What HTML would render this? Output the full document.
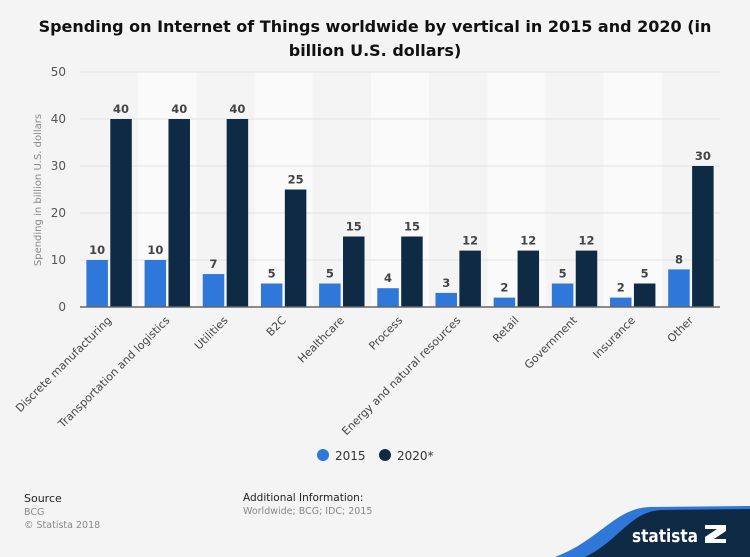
<!DOCTYPE html>
<html><head><meta charset="utf-8"><style>
body{margin:0;width:750px;height:557px;background:#f4f4f4;font-family:"Liberation Sans","DejaVu Sans",sans-serif;position:relative;overflow:hidden}
.t{position:absolute;left:0;width:750px;text-align:center;top:15px;font-family:"DejaVu Sans",sans-serif;font-weight:bold;font-size:16px;line-height:24px;color:#111}
</style></head><body>
<div class="t">Spending on Internet of Things worldwide by vertical in 2015 and 2020 (in<br>billion U.S. dollars)</div>
<svg id="c" width="750" height="557" style="position:absolute;left:0;top:0"></svg>
<div style="position:absolute;left:24px;top:492px;font-size:11px;color:#222;font-family:'DejaVu Sans',sans-serif">Source</div>
<div style="position:absolute;left:24px;top:506px;font-size:9.5px;color:#888;line-height:13px;font-family:'DejaVu Sans',sans-serif">BCG<br>© Statista 2018</div>
<div style="position:absolute;left:243px;top:492px;font-size:10.5px;color:#222;font-family:'DejaVu Sans',sans-serif">Additional Information:</div>
<div style="position:absolute;left:243px;top:506px;font-size:9.5px;color:#888;font-family:'DejaVu Sans',sans-serif">Worldwide; BCG; IDC; 2015</div>
<script>
const categories=["Discrete manufacturing","Transportation and logistics","Utilities","B2C","Healthcare","Process","Energy and natural resources","Retail","Government","Insurance","Other"];
const values2015=[10,10,7,5,5,4,3,2,5,2,8];
const values2020=[40,40,40,25,15,15,12,12,12,5,30];
const yTicks=[0,10,20,30,40,50];
const NS="http://www.w3.org/2000/svg",svg=document.getElementById('c');
const L=80,R=720,T=72,B=307,yMax=50;
const bw=(R-L)/categories.length;
const y=v=>B-(B-T)*v/yMax, x=i=>L+i*bw;
function mk(t,a,p){const e=document.createElementNS(NS,t);for(const k in a)e.setAttribute(k,a[k]);(p||svg).appendChild(e);return e;}
categories.forEach((c,i)=>{if(i%2==1){const r=mk('rect',{x:x(i),y:T,width:bw,height:B-T,fill:'#fafafa'});

}});
yTicks.forEach(v=>{const l=mk('line',{x1:L,x2:R,y1:y(v),y2:y(v),stroke:'#e2e2e2','stroke-width':1});


const t=mk('text',{x:66,y:y(v)+4,'text-anchor':'end','font-size':12,fill:'#555','font-family':'DejaVu Sans, sans-serif'});t.textContent=v;

});
const yt=mk('text',{transform:'translate(41,190) rotate(-90)','text-anchor':'middle','font-size':10,fill:'#888','font-family':'DejaVu Sans, sans-serif'});yt.textContent='Spending in billion U.S. dollars';


const w=21.5;
categories.forEach((c,i)=>{const cx=x(i)+bw/2;
[[values2015[i],'#2f77d9',cx-w-1.2],[values2020[i],'#0f2a44',cx+1.2]].forEach(([v,col,bx],k)=>{
const r=mk('rect',{x:bx,y:y(v),width:w,height:B-y(v),fill:col});


const t=mk('text',{x:bx+w/2,y:y(v)-6,'text-anchor':'middle','font-size':11.5,'font-weight':'bold',fill:'#444','font-family':'DejaVu Sans, sans-serif'});t.textContent=v;

});
const t=mk('text',{transform:`translate(${cx+3},${B+14}) rotate(-45)`,'text-anchor':'end','font-size':11,fill:'#444','font-family':'DejaVu Sans, sans-serif'});t.textContent=c;

});
const ax=mk('line',{x1:L,x2:R,y1:B,y2:B,stroke:'#666','stroke-width':1.5});


[['2015','#2f77d9',323],['2020*','#0f2a44',385]].forEach(([n,col,lx])=>{
const g=mk('g',{});

mk('circle',{cx:lx,cy:455,r:6,fill:col},g);
const t=mk('text',{x:lx+12,y:460,'font-size':12,fill:'#333','font-family':'DejaVu Sans, sans-serif'},g);t.textContent=n;});
const ft=mk('path',{d:'M555 557 C600 540 615 508 650 507 L750 506 L750 557 Z',fill:'#2f77d9'});


const fd=mk('path',{d:'M585 557 C620 540 630 511 662 510 L750 509 L750 557 Z',fill:'#0f2a44'});


const lg=mk('text',{x:632,y:542,'font-size':18,'font-weight':'bold',fill:'#fff','font-family':'DejaVu Sans, sans-serif',textLength:66,lengthAdjust:'spacingAndGlyphs'});lg.textContent='statista';


const li=mk('path',{d:'M705 525h21v6l-12 8h12v4h-21v-6l12-8h-12z',fill:'#fff'});


</script>
</body></html>
